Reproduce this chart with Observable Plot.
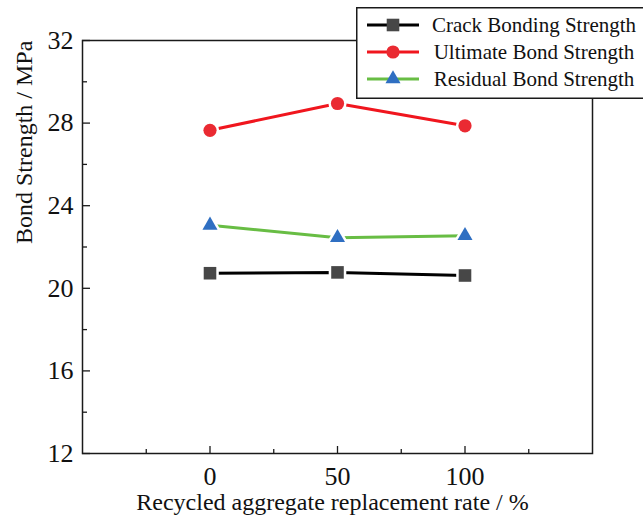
<!DOCTYPE html>
<html><head><meta charset="utf-8">
<script src="https://cdn.jsdelivr.net/npm/d3@7"></script>
<script src="https://cdn.jsdelivr.net/npm/@observablehq/plot@0.6"></script>
<style>
body{margin:0;background:#fff;overflow:hidden}
#wrap{position:relative;width:643px;height:522px;overflow:hidden;background:#fff}
#legend{position:absolute;left:356px;top:7px}
</style>
</head><body>
<div id="wrap"><div id="chart"></div><div id="legend"></div></div>
<script>
// ---- data ----
const rates = [0, 50, 100];
const crackValues = [20.73, 20.77, 20.62];
const ultimateValues = [27.65, 28.95, 27.87];
const residualValues = [23.05, 22.45, 22.55];
const seriesNames = ["Crack Bonding Strength", "Ultimate Bond Strength", "Residual Bond Strength"];
const xMajor = [0, 50, 100];
const xMinor = [-25, 25, 75, 125];
const yMajor = [12, 16, 20, 24, 28, 32];
const yMinor = [14, 18, 22, 26, 30];
const xTitle = "Recycled aggregate replacement rate / %";
const yTitle = "Bond Strength / MPa";

const styles = [
  {line: "#000000", fill: "#474747", symbol: "square", r: 7.1},
  {line: "#f0161e", fill: "#ea2a32", symbol: "circle", r: 6.6},
  {line: "#68bd44", fill: "#2f6fc2", symbol: "triangle", r: 5.6}
];
const seriesValues = [crackValues, ultimateValues, residualValues];

const W = 643, H = 522, mL = 82, mR = 51, mT = 40, mB = 69;
const pw = W - mL - mR, ph = H - mT - mB;
const ink = "#1a1a1a";
const serif = "'Liberation Serif', 'Times New Roman', serif";

const marks = [
  Plot.tickY(yMinor, {y: d => d, insetRight: pw - 5, stroke: ink, strokeWidth: 1.3}),
  Plot.tickY(yMajor, {y: d => d, insetRight: pw - 8, stroke: ink, strokeWidth: 1.3}),
  Plot.tickX(xMinor, {x: d => d, insetTop: ph - 4, stroke: ink, strokeWidth: 1.3}),
  Plot.tickX(xMajor, {x: d => d, insetTop: ph - 7, stroke: ink, strokeWidth: 1.3}),
  Plot.axisY({ticks: yMajor, tickSize: 0, tickPadding: 9, fontSize: 26, fontFamily: serif, label: null, fill: "#111"}),
  Plot.axisX({ticks: xMajor, tickSize: 0, tickPadding: 13, fontSize: 26, fontFamily: serif, label: null, fill: "#111"}),
  Plot.text([xTitle], {frameAnchor: "bottom", text: d => d, dy: 56, dx: -5, fontSize: 24, fontFamily: serif, fill: "#111"}),
  Plot.text([yTitle], {frameAnchor: "left", rotate: -90, text: d => d, dx: -58, dy: -3, fontSize: 24, fontFamily: serif, fill: "#111"})
];
seriesNames.forEach((name, k) => {
  const rows = rates.map((r, i) => ({rate: r, value: seriesValues[k][i]}));
  marks.push(Plot.line(rows, {x: "rate", y: "value", stroke: styles[k].line, strokeWidth: 3}));
});
seriesNames.forEach((name, k) => {
  const rows = rates.map((r, i) => ({rate: r, value: seriesValues[k][i]}));
  marks.push(Plot.dot(rows, {x: "rate", y: "value", symbol: styles[k].symbol, r: styles[k].r,
    fill: styles[k].fill, stroke: "white", strokeWidth: 5, paintOrder: "stroke"}));
});
marks.push(Plot.frame({stroke: ink, strokeWidth: 1.5}));

const chart = Plot.plot({
  width: W, height: H,
  marginLeft: mL, marginRight: mR, marginTop: mT, marginBottom: mB,
  x: {domain: [-50, 150], axis: null},
  y: {domain: [12, 32], axis: null},
  style: {fontFamily: serif, background: "white", overflow: "visible"},
  marks
});
document.getElementById("chart").appendChild(chart);

// ---- legend ----
const lg = d3.select("#legend").append("svg").attr("width", 300).attr("height", 93)
  .style("font-family", serif);
lg.append("rect").attr("x", 0.75).attr("y", 0.75).attr("width", 310).attr("height", 90.5)
  .attr("fill", "white").attr("stroke", ink).attr("stroke-width", 1.5);
const rowY = [18, 45, 72];
seriesNames.forEach((name, k) => {
  const g = lg.append("g").attr("transform", `translate(0,${rowY[k]})`);
  g.append("line").attr("x1", 11).attr("x2", 63).attr("y1", 0).attr("y2", 0)
    .attr("stroke", styles[k].line).attr("stroke-width", 3);
  const sym = {square: d3.symbolSquare, circle: d3.symbolCircle, triangle: d3.symbolTriangle}[styles[k].symbol];
  g.append("path").attr("d", d3.symbol(sym, Math.PI * styles[k].r * styles[k].r)())
    .attr("transform", "translate(37,0)").attr("fill", styles[k].fill);
  g.append("text").attr("x", 178).attr("y", 0).attr("dy", "0.33em").attr("text-anchor", "middle")
    .attr("font-size", 21).attr("fill", "#111").text(name);
});
</script>
</body></html>
